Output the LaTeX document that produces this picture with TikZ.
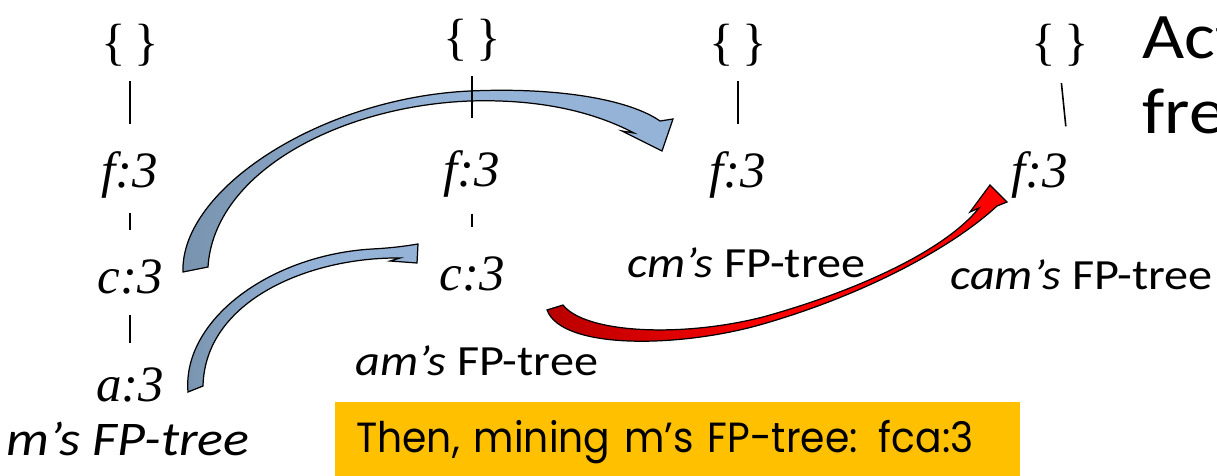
\documentclass[tikz,border=0pt]{standalone}
\usepackage{fontspec}
\usepackage{xcolor}
\usepackage{tikz}
\usetikzlibrary{positioning}
\newfontfamily\tmsfont{Liberation Serif}
\newfontfamily\calfont[FakeStretch=1.12]{Carlito}
\newfontfamily\boxfont[FakeStretch=0.93]{Poppins}
\definecolor{arrdark}{HTML}{7893AE}
\definecolor{arrlight}{HTML}{95B3D7}
\definecolor{reddark}{HTML}{B80000}
\definecolor{redlight}{HTML}{FF0000}
\definecolor{boxyellow}{HTML}{FFC000}

\begin{document}
\begin{tikzpicture}[
  x=0.02cm, y=-0.02cm,
  root/.style={font=\tmsfont\fontsize{29}{33}\selectfont, inner sep=0, text height=19pt, text depth=5pt, anchor=base},
  item/.style={root, font=\tmsfont\itshape\fontsize{29}{33}\selectfont},
  lab/.style={font=\calfont\fontsize{24.5}{28}\selectfont, inner sep=0, anchor=base west},
  note/.style={font=\calfont\fontsize{37}{43}\selectfont, inner sep=0, anchor=north west, align=left},
  ybox/.style={fill=boxyellow, anchor=north west, inner xsep=0.42cm, inner ysep=0, text width=12.86cm, minimum height=1.6cm, align=left, font=\boxfont\fontsize{24}{28}\selectfont},
  tline/.style={line width=0.9pt, shorten <=7pt, shorten >=17pt},
  barr/.style={draw=black, line width=0.7pt, left color=arrdark, right color=arrlight, middle color=arrlight},
  rarr/.style={draw=black, line width=0.7pt, left color=reddark, right color=redlight, middle color=redlight}
]
\useasboundingbox (0,0) rectangle (1217,476);
\clip (0,0) rectangle (1217,476);

\node[root] (e1) at (130,60) {\{\,\}};
\node[item] (f1) at (130,188) {f:3};
\node[item] (c1) at (130,294) {c:3};
\node[item] (a1) at (130,401) {a:3};
\node[lab, anchor=base, font=\calfont\itshape\fontsize{27.5}{31}\selectfont] (mlab) at (128,455) {m’s FP-tree};

\node[root] (e2) at (472,55) {\{\,\}};
\node[item] (f2) at (472,187) {f:3};
\node[item] (c2) at (472,291) {c:3};
\node[lab] (amlab) at (355,375) {\textit{am’s} FP-tree};

\node[root] (e3) at (738,60) {\{\,\}};
\node[item] (f3) at (738,188) {f:3};
\node[lab] (cmlab) at (627,277) {\textit{cm’s} FP-tree};

\node[root] (e4) at (1060,60) {\{\,\}};
\node[item] (f4) at (1040,188) {f:3};
\node[lab] (camlab) at (950,290) {\textit{cam’s} FP-tree};

\node[note] (act) at (1142,16) {Act\\fre};

\node[ybox] (then) at (335,402) {Then, mining m’s FP-tree: fca:3};

\shadedraw[barr] (183,272) .. controls (180,190) and (320,98) .. (470,91) .. controls (560,87) and (630,100) .. (660,121) -- (673,119) -- (662,151) -- (622,131) -- (634,133) .. controls (590,110) and (535,99) .. (470,101) .. controls (340,106) and (214,172) .. (208,267) -- cycle;
\shadedraw[barr] (188,392) .. controls (182,320) and (270,255) .. (372,249) .. controls (392,248) and (406,246) .. (418,244) -- (417,263) -- (390,261) -- (400,258) .. controls (310,257) and (205,300) .. (203,386) -- cycle;
\shadedraw[rarr] (547,310) .. controls (562,350) and (680,348) .. (763,324) .. controls (870,293) and (955,245) .. (997,206) -- (1007,202) -- (990,185) -- (970,212) -- (979,208) .. controls (945,250) and (860,290) .. (763,317) .. controls (680,338) and (585,333) .. (563,305) -- cycle;

\draw[tline] (e1) -- (f1);
\draw[tline, shorten <=9pt] (f1) -- (c1);
\draw[tline, shorten >=14pt] (c1) -- (a1);
\draw[tline, shorten >=20pt] (e2) -- (f2);
\draw[tline, shorten <=10pt] (f2) -- (c2);
\draw[tline] (e3) -- (f3);
\draw[tline, shorten <=8pt, shorten >=16pt] (e4.south) -- (f4.north east);
\end{tikzpicture}
\end{document}
